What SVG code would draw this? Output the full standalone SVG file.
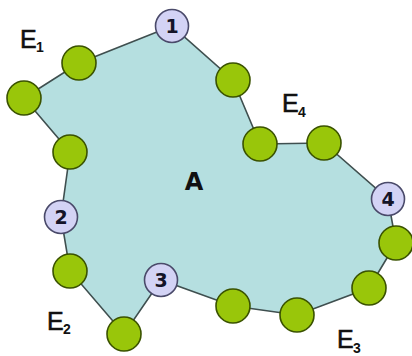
<svg xmlns="http://www.w3.org/2000/svg" width="412" height="356" viewBox="0 0 412 356">
<style>
.area{fill:#b5dfe0;stroke:#3f4f4f;stroke-width:1.6}
.g{fill:#99c60a;stroke:#3a5200;stroke-width:1.6}
.v{fill:#d3d3f5;stroke:#4a4a6a;stroke-width:1.6}
.num{font-family:"DejaVu Sans",sans-serif;font-weight:bold;font-size:19px;fill:#141428;text-anchor:middle}
.lbl{font-family:"Liberation Sans",Arial,sans-serif;font-size:25px;fill:#111;stroke:#111;stroke-width:0.6}
.sub{font-family:"Liberation Sans",Arial,sans-serif;font-weight:bold;font-size:14px;fill:#111}
</style>
<rect width="412" height="356" fill="#fff"/>
<g id="connectors">
<polygon class="area" points="172,26 79,63 24,98 70,152 61,217 70,271 124,334 161,280 233,306 297,315 369,288 396,243 388,199 324,143 260,144 233,80"/>
</g>
<g id="region-A"><text x="194" y="190" font-family="DejaVu Sans,sans-serif" font-weight="bold" font-size="24" fill="#111" text-anchor="middle">A</text></g>
<g id="n1"><circle class="v" cx="172" cy="26" r="16.5"/><text class="num" x="172" y="33">1</text></g>
<g id="n2"><circle class="v" cx="61" cy="217" r="16.5"/><text class="num" x="61" y="224">2</text></g>
<g id="n3"><circle class="v" cx="161" cy="280" r="16.5"/><text class="num" x="161" y="287">3</text></g>
<g id="n4"><circle class="v" cx="388" cy="199" r="16.5"/><text class="num" x="388" y="206">4</text></g>
<g id="g1"><circle class="g" cx="79" cy="63" r="17"/></g>
<g id="g2"><circle class="g" cx="24" cy="98" r="17"/></g>
<g id="g3"><circle class="g" cx="70" cy="152" r="17"/></g>
<g id="g4"><circle class="g" cx="70" cy="271" r="17"/></g>
<g id="g5"><circle class="g" cx="124" cy="334" r="17"/></g>
<g id="g6"><circle class="g" cx="233" cy="306" r="17"/></g>
<g id="g7"><circle class="g" cx="297" cy="315" r="17"/></g>
<g id="g8"><circle class="g" cx="369" cy="288" r="17"/></g>
<g id="g9"><circle class="g" cx="396" cy="243" r="17"/></g>
<g id="g10"><circle class="g" cx="324" cy="143" r="17"/></g>
<g id="g11"><circle class="g" cx="260" cy="144" r="17"/></g>
<g id="g12"><circle class="g" cx="233" cy="80" r="17"/></g>
<g id="E1"><text class="lbl" x="20" y="48">E</text><text class="sub" x="36" y="52">1</text></g>
<g id="E2"><text class="lbl" x="47" y="330">E</text><text class="sub" x="63" y="334">2</text></g>
<g id="E3"><text class="lbl" x="337" y="348">E</text><text class="sub" x="353" y="353">3</text></g>
<g id="E4"><text class="lbl" x="282" y="112">E</text><text class="sub" x="298" y="117">4</text></g>
</svg>
